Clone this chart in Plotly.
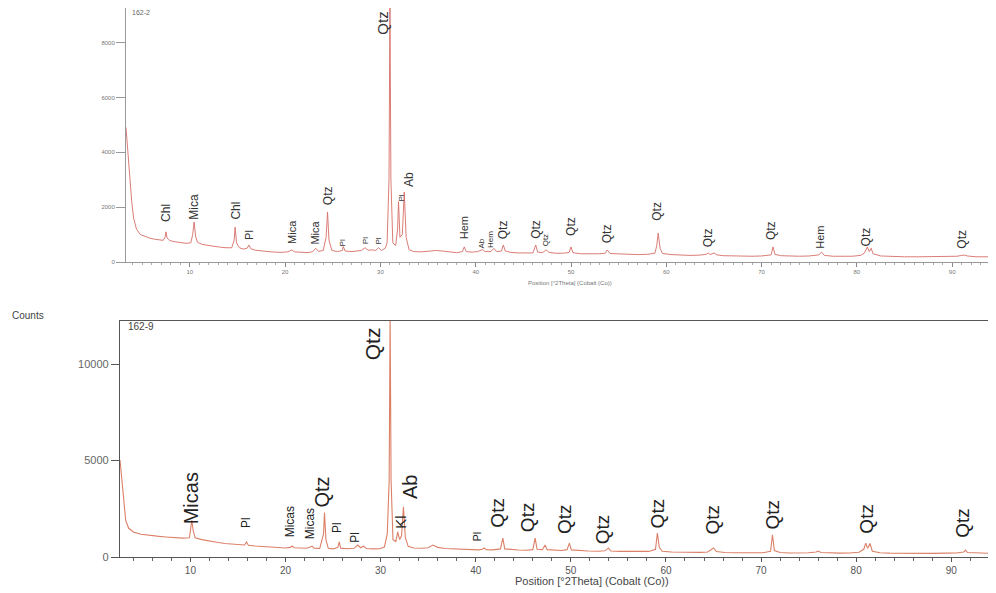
import plotly.graph_objects as go

# ---------------- Data: sample 162-2 (top panel) ----------------
top_x = [3.3, 3.5, 3.7, 3.9, 4.1, 4.4, 4.8, 5.3, 5.8, 6.3, 6.8, 7.2, 7.4, 7.5, 7.6, 7.9, 8.4, 9.0, 9.6,
         10.1, 10.3, 10.45, 10.6, 10.8, 11.3, 12.0, 12.6, 13.2, 13.8, 14.4, 14.65, 14.75, 14.9, 15.2, 15.6,
         16.0, 16.2, 16.4, 16.9, 17.5, 18.2, 18.9, 19.6, 20.3, 20.7, 21.0, 21.7, 22.4, 22.9, 23.2, 23.5,
         24.0, 24.3, 24.45, 24.6, 24.9, 25.5, 26.0, 26.1, 26.3, 27.0, 27.6, 28.0, 28.4, 28.7, 29.2, 29.5,
         29.8, 30.1, 30.5, 30.7, 30.9, 31.0, 31.1, 31.3, 31.6, 31.8, 31.9, 32.05, 32.3, 32.5, 32.7, 33.0,
         33.5, 34.2, 35.0, 35.8, 36.5, 37.2, 38.0, 38.6, 38.8, 39.0, 39.6, 40.2, 40.7, 41.0, 41.6, 41.9,
         42.2, 42.7, 42.9, 43.1, 43.7, 44.5, 45.3, 46.0, 46.3, 46.5, 47.0, 47.4, 47.7, 48.4, 49.2, 49.8,
         50.0, 50.2, 51.0, 52.0, 53.0, 53.6, 53.8, 54.1, 55.0, 56.0, 57.0, 58.0, 58.8, 59.0, 59.15, 59.35,
         59.6, 60.5, 61.5, 62.5, 63.5, 64.2, 64.4, 64.6, 65.0, 65.3, 66.0, 67.0, 68.0, 69.0, 70.0, 71.0,
         71.2, 71.4, 72.0, 73.0, 74.0, 75.0, 76.0, 76.3, 76.6, 77.5, 78.5, 79.5, 80.4, 80.8, 81.1, 81.3,
         81.5, 81.7, 82.5, 83.5, 85.0, 86.5, 88.0, 89.5, 90.5, 91.0, 91.3, 91.6, 92.5, 94.0, 94.6]
top_y = [4900, 3900, 3000, 2200, 1600, 1200, 1000, 920, 870, 830, 800, 790, 900, 1100, 880, 780, 740, 700, 680,
         700, 1000, 1460, 950, 720, 640, 600, 560, 540, 520, 520, 800, 1270, 700, 520, 470,
         500, 620, 480, 430, 400, 380, 360, 350, 370, 440, 370, 350, 340, 380, 500, 390,
         420, 900, 1820, 800, 420, 380, 420, 560, 400, 380, 400, 420, 520, 430, 440, 420,
         520, 420, 500, 700, 3000, 9500, 3000, 700, 600, 1200, 2200, 900, 1000, 2550, 900, 450,
         380, 370, 390, 420, 400, 360, 340, 380, 550, 380, 360, 380, 450, 380, 380, 500,
         380, 400, 620, 400, 350, 330, 320, 330, 620, 360, 340, 440, 350, 320, 320, 350,
         550, 340, 300, 290, 300, 320, 440, 310, 290, 270, 270, 280, 320, 600, 1050, 500,
         310, 270, 250, 240, 250, 280, 330, 270, 330, 260, 230, 220, 210, 210, 220, 260,
         550, 280, 230, 210, 210, 220, 260, 360, 240, 210, 200, 210, 240, 330, 550, 380,
         500, 300, 220, 200, 190, 190, 190, 200, 210, 240, 250, 220, 190, 190, 185]

top_lbl_text = ["Chl", "Mica", "Chl", "Pl", "Mica", "Mica", "Qtz", "Pl", "Pl", "Pl", "Qtz", "Pl", "Ab",
                "Hem", "Ab", "Hem", "Qtz", "Qtz", "Qtz", "Qtz", "Qtz", "Qtz", "Qtz", "Qtz", "Hem", "Qtz", "Qtz"]
top_lbl_x = [7.5, 10.5, 14.8, 16.2, 20.7, 23.1, 24.5, 26.0, 28.4, 29.7, 30.2, 32.2, 33.0,
             38.8, 40.6, 41.6, 42.9, 46.3, 47.3, 50.0, 53.8, 59.0, 64.4, 71.0, 76.1, 81.0, 91.0]
top_lbl_y = [1790, 2000, 1860, 985, 1090, 1060, 2400, 690, 765, 765, 8700, 2330, 2990,
             1240, 690, 840, 1170, 1200, 800, 1280, 1020, 1860, 875, 1130, 910, 910, 840]
top_lbl_size = [12, 12, 12, 11, 11, 11, 12, 8, 8, 8, 15, 8, 12,
                11, 8, 8, 12, 12, 8, 12, 12, 12, 12, 12, 11, 12, 12]

# ---------------- Data: sample 162-9 (bottom panel) ----------------
bot_x = [2.6, 2.8, 3.0, 3.2, 3.5, 4.0, 4.8, 5.6, 6.5, 7.4, 8.3, 9.2, 9.9, 10.05, 10.15, 10.3, 10.5, 11.2,
         12.0, 12.8, 13.6, 14.4, 15.2, 15.7, 15.9, 16.1, 16.8, 17.6, 18.4, 19.2, 20.0, 20.5, 20.7, 20.9,
         21.6, 22.2, 22.6, 22.8, 23.0, 23.6, 24.0, 24.1, 24.25, 24.5, 25.0, 25.5, 25.65, 25.8, 26.5, 27.2,
         27.6, 27.9, 28.2, 28.5, 29.2, 29.9, 30.4, 30.7, 30.9, 31.0, 31.1, 31.3, 31.6, 31.8, 32.0, 32.2,
         32.4, 32.6, 32.9, 33.5, 34.3, 35.0, 35.5, 36.0, 36.8, 37.6, 38.5, 39.4, 40.3, 40.7, 40.9, 41.1,
         41.8, 42.6, 42.85, 43.05, 43.7, 44.5, 45.3, 46.0, 46.25, 46.45, 47.0, 47.3, 47.5, 48.2, 49.0, 49.6,
         49.85, 50.05, 50.8, 51.8, 52.8, 53.6, 53.95, 54.2, 55.2, 56.2, 57.2, 58.2, 58.9, 59.1, 59.3, 59.6,
         60.6, 61.6, 62.6, 63.6, 64.4, 64.8, 65.0, 65.3, 66.2, 67.2, 68.2, 69.2, 70.2, 71.0, 71.2, 71.4,
         72.0, 73.0, 74.0, 75.0, 75.8, 76.0, 76.3, 77.3, 78.3, 79.3, 80.3, 80.8, 81.0, 81.2, 81.45, 81.7,
         82.5, 83.5, 85.0, 86.5, 88.0, 89.5, 90.5, 91.3, 91.5, 91.7, 92.6, 94.0, 94.7]
bot_y = [5030, 4000, 2700, 1900, 1500, 1300, 1180, 1120, 1080, 1040, 1000, 980, 1000, 1500, 1900, 1350, 1000, 900,
         820, 760, 700, 660, 620, 620, 780, 610, 570, 540, 510, 490, 470, 500, 570, 480,
         450, 450, 520, 560, 460, 440, 1200, 2300, 900, 450, 420, 500, 780, 460, 430, 450,
         620, 480, 560, 440, 420, 430, 520, 1200, 4000, 12600, 4000, 900, 800, 1300, 900, 1100,
         2600, 1000, 550, 470, 450, 480, 620, 500, 440, 420, 400, 380, 370, 400, 470, 380,
         370, 420, 980, 420, 380, 360, 350, 380, 980, 400, 380, 620, 380, 350, 340, 380,
         720, 370, 330, 310, 300, 320, 470, 310, 290, 280, 270, 290, 400, 1240, 500, 300,
         260, 250, 240, 240, 260, 400, 470, 280, 230, 220, 210, 210, 220, 300, 1150, 330,
         230, 210, 210, 220, 260, 310, 230, 210, 200, 210, 250, 400, 720, 450, 700, 300,
         220, 200, 190, 190, 190, 200, 210, 260, 360, 230, 200, 190, 185]

bot_lbl_text = ["Micas", "Pl", "Micas", "Micas", "Qtz", "Pl", "Pl", "Qtz", "Kl", "Ab", "Pl",
                "Qtz", "Qtz", "Qtz", "Qtz", "Qtz", "Qtz", "Qtz", "Qtz", "Qtz"]
bot_lbl_x = [10.1, 15.85, 20.5, 22.6, 23.8, 25.4, 27.3, 29.1, 32.0, 33.1, 40.1,
             42.2, 45.4, 49.4, 53.3, 59.1, 64.9, 71.2, 81.1, 91.1]
bot_lbl_y = [3060, 1760, 1810, 1710, 3370, 1550, 1040, 11030, 1810, 3630, 1040,
             2280, 2070, 1970, 1450, 2280, 1920, 2230, 1970, 1760]
bot_lbl_size = [20, 12, 12, 12, 20, 12, 12, 21, 15, 20, 11,
                19, 19, 19, 19, 19, 19, 19, 19, 19]

top_yticks = [0, 2000, 4000, 6000, 8000]
bot_yticks = [0, 5000, 10000]
x_ticks = [10, 20, 30, 40, 50, 60, 70, 80, 90]

FONT = "Liberation Sans, Arial, sans-serif"
# The page body has an 8 px margin; the figure is sized to fill the rest of the window.
OFF = 8
W, H = 996 - OFF, 593 - OFF


def px(x):
    return min(1.0, max(0.0, (x - OFF) / W))


def py(y):
    return min(1.0, max(0.0, 1 - (y - OFF) / H))


fig = go.Figure()
fig.add_trace(go.Scatter(x=top_x, y=top_y, mode="lines", xaxis="x", yaxis="y",
                         line=dict(color="#d66e66", width=0.9), showlegend=False, hoverinfo="skip"))
fig.add_trace(go.Scatter(x=bot_x, y=bot_y, mode="lines", xaxis="x2", yaxis="y2",
                         line=dict(color="#dc8068", width=1.1), showlegend=False, hoverinfo="skip"))

ann = []
for t, x, y, s in zip(top_lbl_text, top_lbl_x, top_lbl_y, top_lbl_size):
    ann.append(dict(text=t, x=x, y=y, xref="x", yref="y", showarrow=False, textangle=-90,
                    xanchor="center", yanchor="middle", font=dict(family=FONT, size=s, color="#333")))
for t, x, y, s in zip(bot_lbl_text, bot_lbl_x, bot_lbl_y, bot_lbl_size):
    ann.append(dict(text=t, x=x, y=y, xref="x2", yref="y2", showarrow=False, textangle=-90,
                    xanchor="center", yanchor="middle", font=dict(family=FONT, size=s, color="#222")))

ann += [
    dict(text="162-2", x=px(130), y=py(13), xref="paper", yref="paper", showarrow=False,
         xanchor="left", yanchor="middle", font=dict(family=FONT, size=7, color="#666")),
    dict(text="162-9", x=px(126), y=py(327), xref="paper", yref="paper", showarrow=False,
         xanchor="left", yanchor="middle", font=dict(family=FONT, size=10, color="#444")),
    dict(text="Position [°2Theta] (Cobalt (Co))", x=px(570), y=py(283), xref="paper", yref="paper",
         showarrow=False, xanchor="center", yanchor="middle", font=dict(family=FONT, size=6, color="#777")),
    dict(text="Position [°2Theta] (Cobalt (Co))", x=px(592), y=py(581), xref="paper", yref="paper",
         showarrow=False, xanchor="center", yanchor="middle", font=dict(family=FONT, size=11, color="#444")),
    dict(text="Counts", x=px(10), y=py(315), xref="paper", yref="paper", showarrow=False,
         xanchor="left", yanchor="middle", font=dict(family=FONT, size=10, color="#444")),
]

fig.update_layout(
    width=W, height=H, margin=dict(l=0, r=0, t=0, b=0),
    paper_bgcolor="white", plot_bgcolor="white",
    xaxis=dict(domain=[px(126), 1], range=[3.3, 94.6], anchor="y", tickvals=x_ticks, automargin=False,
               ticks="outside", ticklen=4, tickcolor="#888", showline=True, linecolor="#999", linewidth=1,
               mirror=True, showgrid=False, zeroline=False,
               tickfont=dict(family=FONT, size=6, color="#777"),
               minor=dict(dtick=1, ticks="outside", ticklen=2, tickcolor="#aaa")),
    yaxis=dict(domain=[py(262), py(8)], range=[0, 9260], anchor="x", tickvals=top_yticks,
               automargin=False, tickformat="d",
               ticks="outside", ticklen=9, tickcolor="#999", showline=True, linecolor="#999", linewidth=1,
               showgrid=False, zeroline=False,
               tickfont=dict(family=FONT, size=6, color="#777")),
    xaxis2=dict(domain=[px(120), 1], range=[2.6, 94.7], anchor="y2", tickvals=x_ticks, automargin=False,
                ticks="outside", ticklen=4, tickcolor="#555", showline=True, linecolor="#555", linewidth=1.2,
                mirror=True, showgrid=False, zeroline=False,
                tickfont=dict(family=FONT, size=10, color="#555"),
                minor=dict(dtick=2, ticks="outside", ticklen=3, tickcolor="#666")),
    yaxis2=dict(domain=[py(557), py(321)], range=[0, 12230], anchor="x2", tickvals=bot_yticks,
                automargin=False, tickformat="d",
                ticks="outside", ticklen=8, tickcolor="#555", showline=True, linecolor="#555", linewidth=1.2,
                showgrid=False, zeroline=False,
                tickfont=dict(family=FONT, size=11, color="#666")),
    annotations=ann,
)

fig.write_html("out.html")
